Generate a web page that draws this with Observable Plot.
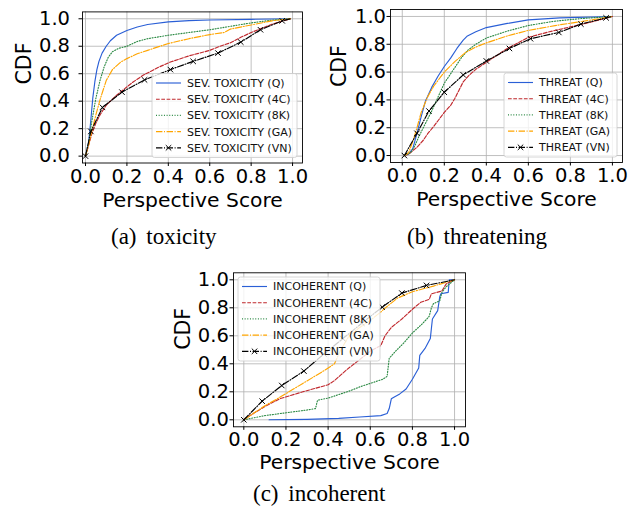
<!DOCTYPE html>
<html><head><meta charset="utf-8">
<script src="https://cdn.jsdelivr.net/npm/d3@7"></script>
<script src="https://cdn.jsdelivr.net/npm/@observablehq/plot@0.6"></script>
<style>
body{margin:0;background:#fff;}
#root{position:relative;width:641px;height:515px;overflow:hidden;background:#fff;}
.panel{position:absolute;}
</style></head><body><div id="root"></div>
<script>
// ---------- data ----------
const seriesKeys = ["Q","4C","8K","GA","VN"];
const tickValues = [0,0.2,0.4,0.6,0.8,1.0];

// (a) severe toxicity
const sevQ  = [[0,0],[0.015,0.1],[0.025,0.25],[0.035,0.42],[0.045,0.54],[0.055,0.63],[0.065,0.69],[0.08,0.75],[0.1,0.8],[0.12,0.84],[0.15,0.88],[0.2,0.915],[0.25,0.94],[0.3,0.958],[0.4,0.977],[0.5,0.986],[0.6,0.991],[0.8,0.996],[0.99,1]];
const sev4C = [[0,0],[0.015,0.08],[0.03,0.16],[0.05,0.24],[0.07,0.3],[0.1,0.37],[0.14,0.43],[0.18,0.48],[0.23,0.54],[0.28,0.59],[0.35,0.645],[0.41,0.685],[0.5,0.73],[0.6,0.77],[0.65,0.8],[0.7,0.825],[0.75,0.865],[0.8,0.9],[0.85,0.93],[0.9,0.96],[0.99,1]];
const sev8K = [[0,0],[0.015,0.1],[0.03,0.25],[0.05,0.42],[0.07,0.55],[0.09,0.65],[0.11,0.72],[0.13,0.76],[0.16,0.785],[0.2,0.8],[0.25,0.835],[0.3,0.855],[0.4,0.88],[0.5,0.9],[0.6,0.92],[0.7,0.945],[0.8,0.97],[0.9,0.99],[0.99,1]];
const sevGA = [[0,0],[0.015,0.08],[0.03,0.18],[0.05,0.3],[0.07,0.41],[0.1,0.55],[0.13,0.63],[0.17,0.685],[0.2,0.71],[0.25,0.745],[0.3,0.77],[0.4,0.82],[0.5,0.855],[0.6,0.885],[0.67,0.9],[0.7,0.925],[0.8,0.955],[0.9,0.985],[0.99,1]];
const sevVN = [[0,0],[0.026,0.18],[0.082,0.355],[0.176,0.466],[0.285,0.555],[0.41,0.63],[0.52,0.69],[0.64,0.75],[0.75,0.83],[0.845,0.92],[0.95,0.985],[0.99,1]];

// (b) threat
const thrQ  = [[0.01,0],[0.03,0.01],[0.05,0.05],[0.07,0.16],[0.09,0.28],[0.11,0.39],[0.14,0.49],[0.17,0.57],[0.2,0.64],[0.23,0.7],[0.26,0.77],[0.29,0.83],[0.31,0.86],[0.35,0.89],[0.4,0.92],[0.5,0.95],[0.6,0.975],[0.75,0.99],[1,1]];
const thr4C = [[0.01,0],[0.03,0.01],[0.07,0.06],[0.1,0.11],[0.12,0.155],[0.15,0.21],[0.17,0.25],[0.2,0.31],[0.23,0.36],[0.25,0.41],[0.27,0.47],[0.29,0.53],[0.32,0.58],[0.35,0.62],[0.4,0.67],[0.45,0.72],[0.5,0.77],[0.55,0.81],[0.6,0.85],[0.7,0.89],[0.8,0.925],[0.9,0.96],[1,1]];
const thr8K = [[0.01,0],[0.04,0.02],[0.06,0.07],[0.08,0.14],[0.1,0.2],[0.14,0.32],[0.17,0.42],[0.2,0.52],[0.24,0.61],[0.28,0.7],[0.31,0.755],[0.35,0.8],[0.4,0.845],[0.5,0.895],[0.6,0.935],[0.72,0.965],[0.85,0.985],[1,1]];
const thrGA = [[0.01,0],[0.03,0.02],[0.05,0.1],[0.07,0.2],[0.09,0.31],[0.12,0.42],[0.15,0.5],[0.2,0.6],[0.25,0.675],[0.3,0.74],[0.35,0.78],[0.4,0.81],[0.5,0.86],[0.6,0.9],[0.75,0.94],[0.88,0.97],[1,1]];
const thrVN = [[0.01,0],[0.07,0.16],[0.127,0.32],[0.2,0.455],[0.29,0.58],[0.4,0.68],[0.51,0.77],[0.61,0.84],[0.745,0.885],[0.85,0.945],[0.97,0.99],[1,1]];

// (c) incoherent
const incQ  = [[0.12,0],[0.3,0.003],[0.45,0.01],[0.55,0.02],[0.65,0.03],[0.68,0.045],[0.69,0.08],[0.7,0.15],[0.71,0.16],[0.74,0.185],[0.77,0.22],[0.8,0.29],[0.83,0.37],[0.835,0.46],[0.86,0.51],[0.885,0.58],[0.89,0.65],[0.895,0.72],[0.92,0.78],[0.93,0.88],[0.935,0.9],[0.97,0.91],[0.975,1],[0.99,1]];
const inc4C = [[0,0],[0.05,0.05],[0.1,0.095],[0.17,0.15],[0.28,0.2],[0.4,0.25],[0.43,0.28],[0.49,0.36],[0.55,0.43],[0.6,0.49],[0.65,0.53],[0.67,0.6],[0.7,0.66],[0.75,0.72],[0.8,0.79],[0.84,0.84],[0.88,0.86],[0.89,0.9],[0.94,0.92],[0.96,0.97],[1,1]];
const inc8K = [[0,0],[0.1,0.03],[0.2,0.05],[0.3,0.07],[0.34,0.08],[0.35,0.14],[0.4,0.155],[0.45,0.18],[0.5,0.205],[0.55,0.235],[0.6,0.26],[0.66,0.29],[0.68,0.31],[0.69,0.44],[0.72,0.49],[0.76,0.55],[0.8,0.62],[0.85,0.69],[0.88,0.74],[0.89,0.8],[0.9,0.83],[0.93,0.85],[0.94,0.91],[0.96,0.95],[1,1]];
const incGA = [[0,0],[0.05,0.05],[0.1,0.1],[0.17,0.16],[0.28,0.26],[0.38,0.35],[0.43,0.4],[0.46,0.5],[0.5,0.6],[0.55,0.66],[0.6,0.71],[0.65,0.77],[0.68,0.81],[0.73,0.87],[0.8,0.915],[0.9,0.955],[1,1]];
const incVN = [[0,0],[0.087,0.133],[0.18,0.245],[0.285,0.348],[0.38,0.47],[0.47,0.58],[0.56,0.69],[0.657,0.805],[0.75,0.905],[0.867,0.96],[1,1]];

const labelsA = seriesKeys.map(k => `SEV. TOXICITY (${k})`);
const labelsB = seriesKeys.map(k => `THREAT (${k})`);
const labelsC = seriesKeys.map(k => `INCOHERENT (${k})`);
const captions = ["(a) toxicity", "(b) threatening", "(c) incoherent"];

// ---------- styles ----------
const styles = {
  Q:  {color:"#2a5fd6", dash:null},
  "4C": {color:"#c0282d", dash:"3.7,1.6"},
  "8K": {color:"#2e8b46", dash:"1,1.65"},
  GA: {color:"#ffa500", dash:"6.4,1.6,1,1.6"},
  VN: {color:"#000000", dash:"6.4,1.6,1,1.6"}
};

const root = document.getElementById("root");

function makePanel(cfg){
  const lines = cfg.data.map((pts,i) => {
    const st = styles[seriesKeys[i]];
    return Plot.line(pts, {x: d=>d[0], y: d=>d[1], stroke: st.color, strokeWidth: 1.15, strokeDasharray: st.dash || undefined});
  });
  const vn = cfg.data[4];
  const fnt = "DejaVu Sans";
  const chart = Plot.plot({
    width: cfg.w, height: cfg.h,
    marginLeft: cfg.ml, marginRight: cfg.mr, marginTop: cfg.mt, marginBottom: cfg.mb,
    x: {domain: cfg.xd, label: null},
    y: {domain: [-0.05, 1.05], label: null},
    style: {fontFamily: fnt, color: "black", background: "transparent", overflow: "visible"},
    marks: [
      Plot.gridX(tickValues, {stroke:"#b0b0b0", strokeOpacity:1, strokeWidth:0.8}),
      Plot.gridY(tickValues, {stroke:"#b0b0b0", strokeOpacity:1, strokeWidth:0.8}),
      ...lines,
      Plot.dot(vn.slice(0,-1), {x: d=>d[0], y: d=>d[1], symbol:"times", r:2.6, stroke:"black", strokeWidth:1}),
      Plot.frame({stroke:"black", strokeWidth:0.9}),
      Plot.axisX(tickValues, {tickFormat: d3.format(".1f"), tickSize:3.5, tickPadding: cfg.xpad, fontSize:19.5, label:null}),
      Plot.axisY(tickValues, {tickFormat: d3.format(".1f"), tickSize:3.5, tickPadding: cfg.ypad, fontSize:19.5, label:null}),
      Plot.text(["CDF"], {text: d=>d, frameAnchor:"left", dx: cfg.cdfDx, dy: cfg.cdfDy || 0, rotate:-90, lineAnchor:"bottom", fontSize:20.5, fill:"black"}),
      Plot.text(["Perspective Score"], {text: d=>d, frameAnchor:"bottom", dy: cfg.xlDy, lineAnchor:"bottom", fontSize:20.3, fill:"black"})
    ]
  });
  chart.classList.add("panel");
  chart.style.left = cfg.left + "px";
  chart.style.top = cfg.top + "px";
  root.appendChild(chart);

  // legend
  const svg = d3.select(chart);
  const lg = svg.append("g").attr("transform", `translate(${cfg.lg[0]},${cfg.lg[1]})`);
  lg.append("rect").attr("width", cfg.lg[2]).attr("height", 84).attr("rx", 2.5)
    .attr("fill", "white").attr("fill-opacity", 0.8).attr("stroke", "#cccccc").attr("stroke-width", 0.8);
  cfg.labels.forEach((lab, i) => {
    const st = styles[seriesKeys[i]];
    const yy = 9.5 + i*16.2;
    lg.append("line").attr("x1", 4).attr("x2", 29).attr("y1", yy).attr("y2", yy)
      .attr("stroke", st.color).attr("stroke-width", 1.15).attr("stroke-dasharray", st.dash);
    if (seriesKeys[i] === "VN") {
      lg.append("path").attr("d", d3.symbol(d3.symbolTimes, Math.PI*2.6*2.6)())
        .attr("transform", `translate(16.5,${yy})`).attr("stroke", "black").attr("fill","none").attr("stroke-width", 1);
    }
    lg.append("text").attr("x", 35).attr("y", yy).attr("dy", "0.36em").attr("text-anchor", "start")
      .attr("font-family", fnt).attr("font-size", 11).attr("fill", "#111").text(lab);
  });
}

makePanel({data:[sevQ,sev4C,sev8K,sevGA,sevVN], labels: labelsA, left:0, top:0, w:320, h:225,
  ml:82, mr:18, mt:11.4, mb:62.5, xd:[-0.0145,1.048], xpad:2.5, ypad:9, cdfDx:-52, cdfDy:-3, xlDy:43.5,
  lg:[152,73.5,145]});
makePanel({data:[thrQ,thr4C,thr8K,thrGA,thrVN], labels: labelsB, left:320, top:0, w:321, h:225,
  ml:70, mr:19, mt:9, mb:63, xd:[-0.056,1.048], xpad:2.5, ypad:1, cdfDx:-45, cdfDy:1, xlDy:43.5,
  lg:[184,73,113]});
makePanel({data:[incQ,inc4C,inc8K,incGA,incVN], labels: labelsC, left:180, top:255, w:300, h:220,
  ml:53, mr:15, mt:17.3, mb:48.7, xd:[-0.049,1.052], xpad:2, ypad:1.2, cdfDx:-44, cdfDy:0, xlDy:42,
  lg:[58,22,142]});

// captions
const cap = d3.select(root).append("svg").attr("width",641).attr("height",515)
  .style("position","absolute").style("left","0px").style("top","0px").style("pointer-events","none");
const capPos = [[111,243.5],[407,243.5],[253,501]];
captions.forEach((t,i) => {
  cap.append("text").attr("x", capPos[i][0]).attr("y", capPos[i][1])
    .attr("font-family", "Liberation Serif, Times New Roman, serif").attr("font-size", 23)
    .attr("word-spacing", 4).attr("fill", "black").text(t);
});
</script>
</body></html>
